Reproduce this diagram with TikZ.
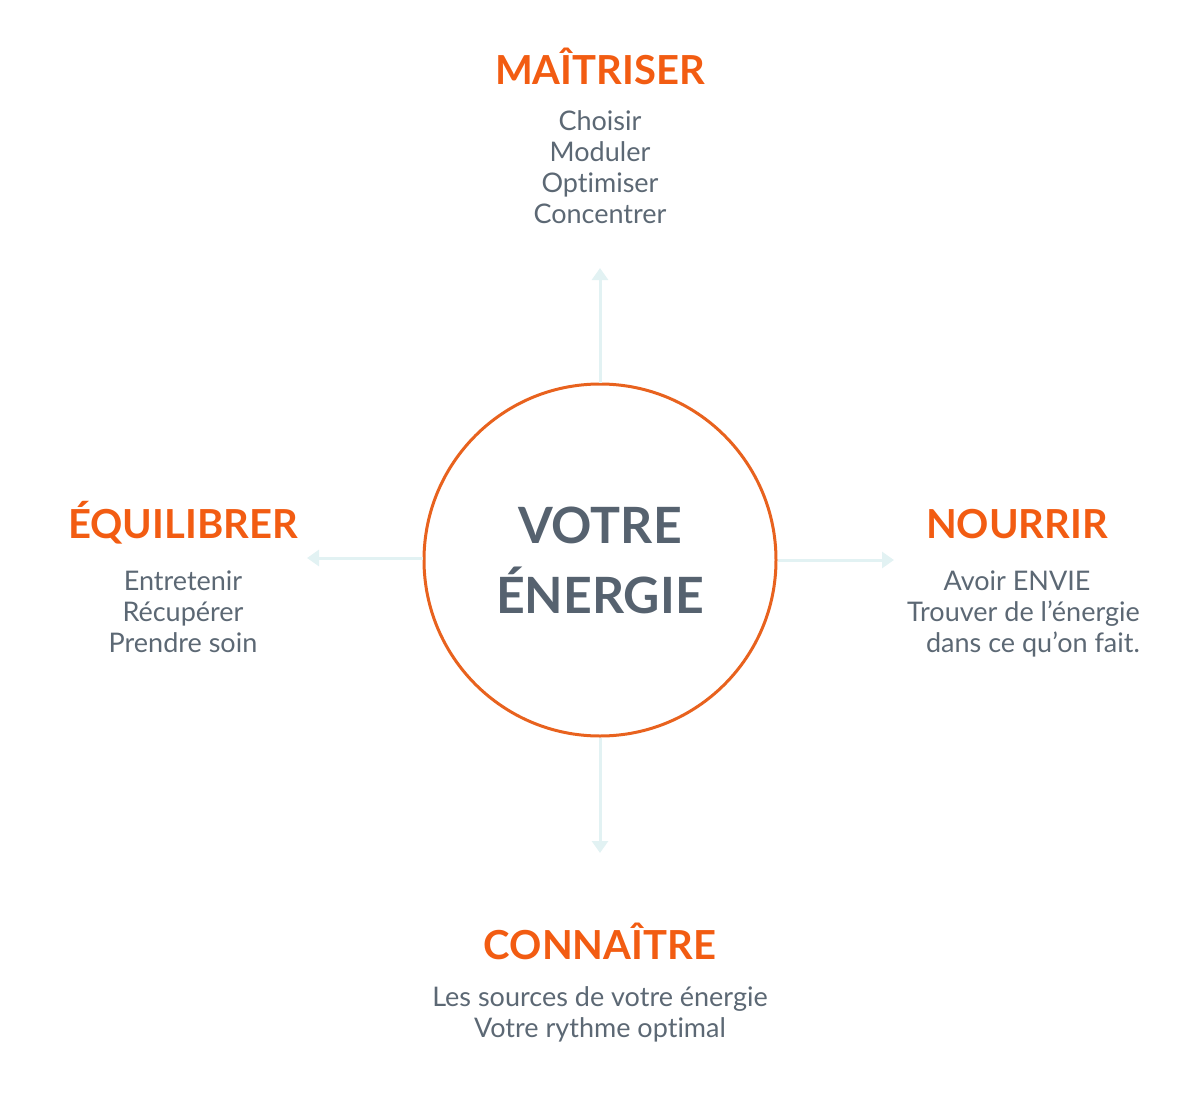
\documentclass[tikz,border=0pt]{standalone}
\usepackage{fontspec}
\setmainfont{Lato}[Ligatures={NoCommon,TeX}]
\usetikzlibrary{arrows.meta}
\definecolor{orangeC}{HTML}{E8621E}
\definecolor{orangeT}{HTML}{F25C12}
\definecolor{greyT}{HTML}{5C6874}
\definecolor{greyC}{HTML}{56626F}
\definecolor{arrowC}{HTML}{E2F2F3}
\begin{document}
\begin{tikzpicture}[x=1pt,y=-1pt,
  head/.style={text=orangeT,font=\fontsize{40}{42}\selectfont\bfseries,inner sep=0pt,anchor=base},
  bodyline/.style={text=greyT,font=\fontsize{27}{31}\selectfont,inner sep=0pt,anchor=base},
  conn/.style={draw=arrowC,line width=3pt,-{Triangle[width=16pt,length=12pt]}}]
\useasboundingbox (0,0) rectangle (1200,1100);
\node[circle,draw=orangeC,line width=3pt,minimum size=352pt,inner sep=0pt] (c) at (600,560) {};
\node[text=greyC,font=\fontsize{50}{70}\selectfont\bfseries,align=center,inner sep=0pt] (ct) at (600,560) {VOTRE\\ÉNERGIE};
% top
\node[head] (h1) at (600,84) {MAÎTRISER};
\node[bodyline] (b1a) at (600,130) {Choisir};
\node[bodyline] (b1b) at (600,161) {Moduler};
\node[bodyline] (b1c) at (600,192) {Optimiser};
\node[bodyline] (b1d) at (600,223) {Concentrer};
\coordinate (t1) at (600,268);
\draw[conn] (c.north) -- (t1);
% left
\node[head] (h2) at (183,538) {ÉQUILIBRER};
\node[bodyline] (b2a) at (183,590) {Entretenir};
\node[bodyline] (b2b) at (183,621) {Récupérer};
\node[bodyline] (b2c) at (183,652) {Prendre soin};
\coordinate (t2) at (307,558);
\draw[conn] (c.west |- t2) -- (t2);
% right
\node[head] (h3) at (1017,538) {NOURRIR};
\node[bodyline] (b3a) at (1017,590) {Avoir ENVIE};
\node[bodyline,anchor=base east] (b3b) at (1140,621) {Trouver de l’énergie};
\node[bodyline,anchor=base east] (b3c) at (1140,652) {dans ce qu’on fait.};
\coordinate (t3) at (894,560);
\draw[conn] (c.east) -- (t3);
% bottom
\node[head] (h4) at (600,959) {CONNAÎTRE};
\node[bodyline] (b4a) at (600,1006) {Les sources de votre énergie};
\node[bodyline] (b4b) at (600,1037) {Votre rythme optimal};
\coordinate (t4) at (600,853);
\draw[conn] (c.south) -- (t4);
\end{tikzpicture}
\end{document}
